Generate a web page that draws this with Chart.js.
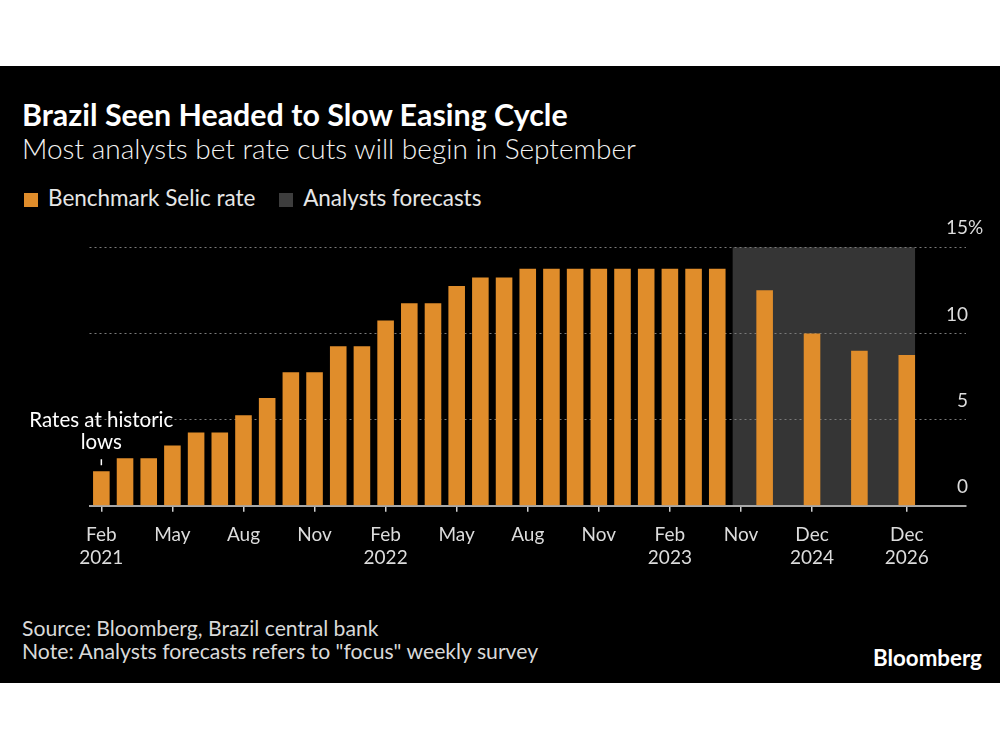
<!DOCTYPE html>
<html>
<head>
<meta charset="utf-8">
<script src="https://cdn.jsdelivr.net/npm/chart.js@4"></script>
<style>
    body { margin: 0; width: 1000px; height: 750px; background: #fff; overflow: hidden; font-family: Lato, "Open Sans", sans-serif; }
    #panel { position: absolute; left: 0; top: 66px; width: 1000px; height: 617px; background: #000; }
    .txt { position: absolute; white-space: nowrap; color: #fff; }
    #title { left: 22px; top: 97px; font-size: 30.4px; line-height: 34px; font-weight: 700; }
    #subtitle { left: 22px; top: 131px; font-size: 28px; line-height: 34px; font-weight: 300; color: #f2f2f2; }
    #legend { left: 24px; top: 185px; font-size: 22.5px; line-height: 26px; color: #e6e6e6; }
    #legend span.box { display: inline-block; width: 14px; height: 14px; margin-right: 10px; vertical-align: -1px; }
    #legend span.item { margin-right: 18px; }
    #source { left: 22px; top: 617px; font-size: 21.2px; line-height: 23px; color: #d9d9d9; }
    #brand { left: 873px; top: 644px; font-size: 22.3px; line-height: 28px; font-weight: 700; }
    #chartBox { position: absolute; left: 0; top: 200px; width: 1000px; height: 400px; }
</style>
</head>
<body>
<div id="panel"></div>
<div class="txt" id="title">Brazil Seen Headed to Slow Easing Cycle</div>
<div class="txt" id="subtitle">Most analysts bet rate cuts will begin in September</div>
<div class="txt" id="legend">
    <span class="item"><span class="box" style="background:#E08D2B"></span>Benchmark Selic rate</span>
    <span class="item"><span class="box" style="background:#3d3d3d"></span>Analysts forecasts</span>
</div>
<div class="txt" id="source">Source: Bloomberg, Brazil central bank<br>Note: Analysts forecasts refers to "focus" weekly survey</div>
<div class="txt" id="brand">Bloomberg</div>
<div id="chartBox"><canvas id="selicChart"></canvas></div>

<script>
// tick labels (one slot per month, Feb 2021 - Apr 2023, then the forecast slots)
const xLabels = [
    ["Feb", "2021"], "", "", "May", "", "", "Aug", "", "", "Nov", "", "",
    ["Feb", "2022"], "", "", "May", "", "", "Aug", "", "", "Nov", "", "",
    ["Feb", "2023"], "", "", "Nov", "", "", ["Dec", "2024"], "", "", "",
    ["Dec", "2026"], "", ""
];

// Selic rate, monthly, Feb 2021 - Apr 2023
const selicRate = [
    2.0, 2.75, 2.75, 3.5, 4.25, 4.25, 5.25, 6.25, 7.75, 7.75, 9.25, 9.25,
    10.75, 11.75, 11.75, 12.75, 13.25, 13.25, 13.75, 13.75, 13.75, 13.75, 13.75, 13.75,
    13.75, 13.75, 13.75
];

// Focus survey forecasts: year-end 2023, 2024, 2025, 2026
const forecastSlots = [28, 30, 32, 34];
const forecastValues = [12.5, 10.0, 9.0, 8.75];

const yTicks = [0, 5, 10, 15];

const ORANGE = "#E08D2B";

// build the single bar series from the arrays above
const barData = xLabels.map(() => null);
selicRate.forEach((v, i) => { barData[i] = v; });
forecastSlots.forEach((slot, i) => { barData[slot] = forecastValues[i]; });

const isLabeled = (lbl) => Array.isArray(lbl) || lbl !== "";

const overlay = {
    id: "overlay",
    beforeDraw(chart) {
        const { ctx, scales: { x, y } } = chart;
        const slot = x.getPixelForValue(1) - x.getPixelForValue(0);
        // forecast shading
        const left = x.getPixelForValue(selicRate.length - 1) + slot * 0.65;
        const right = x.getPixelForValue(forecastSlots[forecastSlots.length - 1]) + slot * 0.35;
        const top = y.getPixelForValue(15);
        ctx.save();
        ctx.fillStyle = "#353535";
        ctx.fillRect(left, top, right - left, y.getPixelForValue(0) - top);
        ctx.restore();
    },
    afterDraw(chart) {
        const { ctx, scales: { x, y } } = chart;
        ctx.save();
        // y labels on the right, sitting above the grid lines
        ctx.font = "19px Lato, 'Open Sans', sans-serif";
        ctx.fillStyle = "#dcdcdc";
        ctx.textBaseline = "middle";
        const xr = chart.chartArea.right + 2;
        yTicks.forEach((t) => {
            const py = y.getPixelForValue(t) - 19;
            ctx.textAlign = "right";
            ctx.fillText(String(t), xr, py);
            if (t === 15) {
                ctx.textAlign = "left";
                ctx.fillText("%", xr, py);
            }
        });
        // annotation on first bar
        const bx = x.getPixelForValue(0);
        const by = y.getPixelForValue(selicRate[0]);
        ctx.font = "20.5px Lato, 'Open Sans', sans-serif";
        ctx.fillStyle = "#ffffff";
        ctx.textAlign = "center";
        ctx.fillText("Rates at historic", bx, by - 51);
        ctx.fillText("lows", bx, by - 29);
        ctx.strokeStyle = "#ffffff";
        ctx.lineWidth = 1.5;
        ctx.beginPath();
        ctx.moveTo(bx, by - 12);
        ctx.lineTo(bx, by - 6);
        ctx.stroke();
        ctx.restore();
    },
};

new Chart(document.getElementById("selicChart").getContext("2d"), {
    type: "bar",
    data: {
        labels: xLabels,
        datasets: [
            {
                label: "Benchmark Selic rate",
                data: barData,
                backgroundColor: ORANGE,
                barPercentage: 0.7,
                categoryPercentage: 1.0,
            },
        ],
    },
    options: {
        responsive: true,
        maintainAspectRatio: false,
        animation: false,
        layout: { padding: { top: 47.3, left: 89.5, right: 34, bottom: 0 } },
        plugins: {
            legend: { display: false },
            tooltip: { enabled: false },
        },
        scales: {
            x: {
                grid: {
                    offset: false,
                    drawOnChartArea: false,
                    drawTicks: true,
                    tickLength: 6,
                    lineWidth: 1.5,
                    color: (c) => (c.tick && isLabeled(xLabels[c.index]) ? "#cfcfcf" : "transparent"),
                },
                border: { color: "#a8a8a8", width: 2 },
                ticks: {
                    autoSkip: false,
                    maxRotation: 0,
                    padding: 12,
                    color: "#dcdcdc",
                    font: { family: "Lato, 'Open Sans', sans-serif", size: 19, lineHeight: 1.2 },
                },
                afterFit: (scale) => { scale.height = 94.3; },
            },
            y: {
                position: "right",
                min: 0,
                max: 15,
                ticks: { display: false, stepSize: 5 },
                border: { display: false, dash: [2, 3] },
                grid: {
                    drawTicks: false,
                    color: (c) => (c.tick && c.tick.value === 0 ? "transparent" : "#7a7a7a"),
                },
                afterFit: (scale) => { scale.width = 0; },
            },
        },
    },
    plugins: [overlay],
});
</script>
</body>
</html>
